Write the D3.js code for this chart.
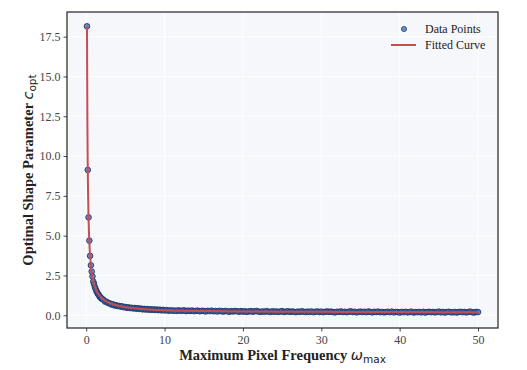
<!DOCTYPE html>
<html><head><meta charset="utf-8">
<script src="https://cdn.jsdelivr.net/npm/d3@7"></script>
<style>html,body{margin:0;padding:0;background:#fff;}svg{display:block;}</style>
</head><body>
<svg id="chart" width="527" height="370"></svg>
<script>
// ---- data ----
const omegaValues = [
 0.1,0.2,0.3,0.4,0.5,0.6,0.7,0.8,0.9,1.0,1.1,1.2,1.3,1.4,1.5,1.6,1.7,1.8,1.9,2.0,
 2.2,2.4,2.6,2.8,3.0,3.2,3.4,3.6,3.8,4.0,4.2,4.4,4.6,4.8,5.0,5.2,5.4,5.6,5.8,6.0,
 6.2,6.4,6.6,6.8,7.0,7.2,7.4,7.6,7.8,8.0,8.2,8.4,8.6,8.8,9.0,9.2,9.4,9.6,9.8,10.0,
 10.25,10.5,10.75,11,11.25,11.5,11.75,12,12.25,12.5,12.75,13,13.25,13.5,13.75,14,14.25,14.5,14.75,15,
 15.25,15.5,15.75,16,16.25,16.5,16.75,17,17.25,17.5,17.75,18,18.25,18.5,18.75,19,19.25,19.5,19.75,20,
 20.25,20.5,20.75,21,21.25,21.5,21.75,22,22.25,22.5,22.75,23,23.25,23.5,23.75,24,24.25,24.5,24.75,25,
 25.25,25.5,25.75,26,26.25,26.5,26.75,27,27.25,27.5,27.75,28,28.25,28.5,28.75,29,29.25,29.5,29.75,30,
 30.25,30.5,30.75,31,31.25,31.5,31.75,32,32.25,32.5,32.75,33,33.25,33.5,33.75,34,34.25,34.5,34.75,35,
 35.25,35.5,35.75,36,36.25,36.5,36.75,37,37.25,37.5,37.75,38,38.25,38.5,38.75,39,39.25,39.5,39.75,40,
 40.25,40.5,40.75,41,41.25,41.5,41.75,42,42.25,42.5,42.75,43,43.25,43.5,43.75,44,44.25,44.5,44.75,45,
 45.25,45.5,45.75,46,46.25,46.5,46.75,47,47.25,47.5,47.75,48,48.25,48.5,48.75,49,49.25,49.5,49.75,50
];
const cOptValues = [
 18.15,9.13,6.15,4.69,3.73,3.14,2.75,2.44,2.12,1.97,1.78,1.66,1.52,1.44,1.33,1.29,1.18,1.14,1.06,1.05,
 0.97,0.86,0.85,0.77,0.75,0.68,0.69,0.62,0.63,0.58,0.59,0.54,0.56,0.50,0.52,0.47,0.50,0.45,0.47,0.43,
 0.46,0.41,0.44,0.40,0.42,0.37,0.40,0.36,0.39,0.35,0.38,0.34,0.37,0.33,0.36,0.32,0.35,0.31,0.34,0.30,
 0.33,0.28,0.31,0.29,0.30,0.27,0.31,0.28,0.29,0.31,0.26,0.29,0.27,0.30,0.26,0.28,0.29,0.25,0.28,0.27,
 0.24,0.28,0.26,0.29,0.25,0.27,0.24,0.28,0.26,0.23,0.27,0.25,0.22,0.26,0.24,0.27,0.25,0.22,0.26,0.23,
 0.25,0.21,0.24,0.26,0.22,0.25,0.27,0.23,0.21,0.24,0.22,0.26,0.23,0.20,0.25,0.22,0.24,0.21,0.23,0.26,
 0.20,0.23,0.25,0.21,0.24,0.22,0.19,0.23,0.21,0.25,0.22,0.20,0.23,0.21,0.24,0.19,0.22,0.24,0.20,0.23,
 0.19,0.22,0.24,0.21,0.23,0.20,0.18,0.22,0.21,0.24,0.20,0.22,0.19,0.22,0.25,0.20,0.22,0.18,0.21,0.23,
 0.20,0.22,0.19,0.24,0.21,0.18,0.22,0.20,0.23,0.19,0.21,0.18,0.20,0.22,0.19,0.23,0.18,0.21,0.20,0.17,
 0.21,0.19,0.22,0.18,0.20,0.23,0.17,0.20,0.19,0.21,0.18,0.22,0.17,0.20,0.22,0.19,0.21,0.18,0.20,0.23,
 0.18,0.21,0.17,0.20,0.22,0.19,0.18,0.21,0.17,0.20,0.22,0.19,0.21,0.18,0.20,0.23,0.19,0.17,0.21,0.20
];
const fitOmega = [0.1,0.15,0.2,0.3,0.4,0.5,0.6,0.7,0.8,0.9,1.0,1.2,1.5,2.0,2.5,3,4,5,6,7,8,10,12,15,20,25,30,35,40,45,50];
const fitC     = [18.15,12.1,9.13,6.12,4.62,3.72,3.12,2.70,2.38,2.14,1.95,1.67,1.37,1.07,0.89,0.77,0.61,0.51,0.45,0.40,0.36,0.31,0.285,0.262,0.240,0.226,0.216,0.208,0.202,0.197,0.193];
const xTicks = [0,10,20,30,40,50];
const yTicks = [0,2.5,5,7.5,10,12.5,15,17.5];
const legendLabels = ["Data Points","Fitted Curve"];

// ---- drawing ----
const svg = d3.select("#chart");
const L=67, R=498, T=12, B=328;
const x = d3.scaleLinear().domain([-2.45,52.55]).range([L,R]);
const y = d3.scaleLinear().domain([-0.8,19.05]).range([B,T]);
const serif = "'Liberation Serif','Times New Roman',serif";
const math = "'DejaVu Sans',sans-serif";

svg.append("rect").attr("x",L).attr("y",T).attr("width",R-L).attr("height",B-T).attr("fill","#f5f7fa");

// grid
svg.append("g").selectAll("line").data(xTicks).join("line")
  .attr("x1",d=>x(d)).attr("x2",d=>x(d)).attr("y1",T).attr("y2",B)
  .attr("stroke","#ffffff").attr("stroke-width",0.9);
svg.append("g").selectAll("line").data(yTicks).join("line")
  .attr("y1",d=>y(d)).attr("y2",d=>y(d)).attr("x1",L).attr("x2",R)
  .attr("stroke","#ffffff").attr("stroke-width",0.9);

svg.append("clipPath").attr("id","clip").append("rect")
  .attr("x",L).attr("y",T).attr("width",R-L).attr("height",B-T);

const pts = omegaValues.map((w,i)=>({w, c:cOptValues[i]}));
svg.append("g").attr("clip-path","url(#clip)").selectAll("circle").data(pts).join("circle")
  .attr("cx",d=>x(d.w)).attr("cy",d=>y(d.c)).attr("r",2.8)
  .attr("fill","#4c72b0").attr("fill-opacity",0.8)
  .attr("stroke","#1b3770").attr("stroke-width",0.9);

const fit = fitOmega.map((w,i)=>({w, c:fitC[i]}));
svg.append("path").datum(fit).attr("clip-path","url(#clip)")
  .attr("d", d3.line().x(d=>x(d.w)).y(d=>y(d.c)).curve(d3.curveMonotoneX))
  .attr("fill","none").attr("stroke","#c44e52").attr("stroke-width",2);

// axes
const xAxis = svg.append("g").attr("transform",`translate(0,${B})`)
  .call(d3.axisBottom(x).tickValues(xTicks).tickFormat(d3.format("d")).tickSize(3.5).tickPadding(4));
const yAxis = svg.append("g").attr("transform",`translate(${L},0)`)
  .call(d3.axisLeft(y).tickValues(yTicks).tickFormat(d3.format(".1f")).tickSize(3.5).tickPadding(3));
[xAxis,yAxis].forEach(a=>{
  a.attr("font-family",serif).attr("font-size",12);
  a.select(".domain").remove();
  a.selectAll(".tick line").attr("stroke","#333").attr("stroke-width",0.9);
  a.selectAll(".tick text").attr("font-family",serif).attr("font-size",12).attr("fill","#444");
});

svg.append("rect").attr("x",L).attr("y",T).attr("width",R-L).attr("height",B-T)
  .attr("fill","none").attr("stroke","#222").attr("stroke-width",1.2);

// axis labels
const xl = svg.append("text").attr("x",(L+R)/2).attr("y",360).attr("text-anchor","middle")
  .attr("font-family",serif).attr("font-weight","bold").attr("font-size",14.5).attr("fill","#222");
xl.append("tspan").text("Maximum Pixel Frequency ");
xl.append("tspan").attr("font-family",math).attr("font-style","italic").attr("font-weight","normal").text("ω");
xl.append("tspan").attr("font-family",math).attr("font-weight","normal").attr("font-size",10.5).attr("dy",3).text("max");

const yl = svg.append("text").attr("transform",`translate(33,${(T+B)/2}) rotate(-90)`).attr("text-anchor","middle")
  .attr("font-family",serif).attr("font-weight","bold").attr("font-size",14.5).attr("fill","#222");
yl.append("tspan").text("Optimal Shape Parameter ");
yl.append("tspan").attr("font-family",math).attr("font-style","italic").attr("font-weight","normal").text("c");
yl.append("tspan").attr("font-family",math).attr("font-weight","normal").attr("font-size",10.5).attr("dy",3).text("opt");

// legend
const lg = svg.append("g");
lg.append("circle").attr("cx",404).attr("cy",29).attr("r",2.6)
  .attr("fill","#4c72b0").attr("fill-opacity",0.8).attr("stroke","#1b3770").attr("stroke-width",0.7);
lg.append("line").attr("x1",391).attr("x2",416).attr("y1",45).attr("y2",45)
  .attr("stroke","#c44e52").attr("stroke-width",2);
lg.selectAll("text").data(legendLabels).join("text")
  .attr("x",425).attr("y",(d,i)=>29+i*16).attr("dy","0.35em")
  .attr("font-family",serif).attr("font-size",12).attr("fill","#222").text(d=>d);
</script>
</body></html>
